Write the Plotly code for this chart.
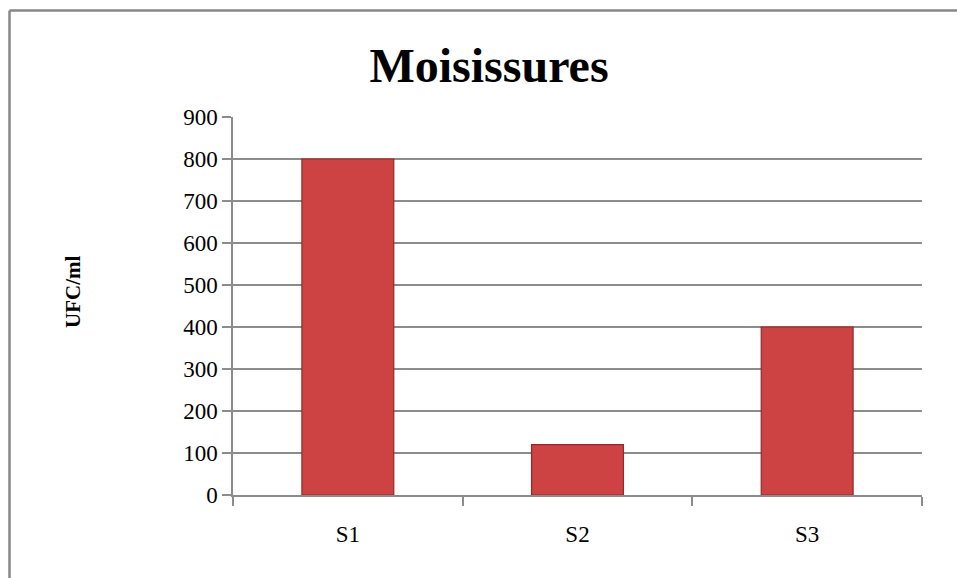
import plotly.graph_objects as go

# Moisissures counts per sample (UFC/ml)
samples = ["S1", "S2", "S3"]
ufc_values = [800, 120, 400]
y_ticks = [0, 100, 200, 300, 400, 500, 600, 700, 800, 900]

W, H = 957, 578
L, R, T, B = 233, 35, 117, 83
plot_w = W - L - R
plot_h = H - T - B

grid_col = "#8C8C8C"
serif = "Times New Roman, Liberation Serif, serif"

fig = go.Figure()

fig.add_trace(go.Bar(
    x=samples,
    y=ufc_values,
    width=0.4,
    marker=dict(color="#CD4242", line=dict(color="#962828", width=1.2)),
    showlegend=False,
    hoverinfo="x+y",
))

# outer chart frame (extends past right/bottom edges of the page)
fx0 = (9.5 - L) / plot_w
fy1 = (H - B - 10.5) / plot_h
fig.add_shape(type="line", xref="paper", yref="paper",
              x0=fx0, x1=fx0, y0=-0.5, y1=fy1,
              line=dict(color="#878787", width=2.5))
fig.add_shape(type="line", xref="paper", yref="paper",
              x0=fx0, x1=1.2, y0=fy1, y1=fy1,
              line=dict(color="#878787", width=2.5))

# vertical axis caption
fig.add_annotation(
    text="<b>UFC/ml</b>", textangle=-90,
    xref="paper", yref="paper",
    x=(73 - L) / plot_w, y=(H - B - 292) / plot_h,
    xanchor="center", yanchor="middle", showarrow=False,
    font=dict(family=serif, size=21, color="black"),
)

fig.update_layout(
    width=W, height=H,
    margin=dict(l=L, r=R, t=T, b=B, pad=0),
    paper_bgcolor="white",
    plot_bgcolor="white",
    font=dict(family=serif, color="black", size=23),
    title=dict(
        text="<b>Moisissures</b>",
        font=dict(family=serif, size=48, color="black"),
        x=489 / W, xref="container", xanchor="center",
        y=1 - 65 / H, yref="container", yanchor="middle",
    ),
    bargap=0.6,
)

fig.update_xaxes(
    type="category",
    tickson="boundaries",
    ticks="outside", ticklen=9, tickwidth=1.5, tickcolor=grid_col,
    showline=True, linecolor=grid_col, linewidth=1.5,
    showgrid=False,
    tickfont=dict(family=serif, size=23),
    ticklabelstandoff=18,
)

fig.update_yaxes(
    range=[0, 900],
    tickvals=y_ticks,
    ticks="outside", ticklen=9, tickwidth=1.5, tickcolor=grid_col,
    showline=True, linecolor=grid_col, linewidth=1.5,
    showgrid=True, gridcolor=grid_col, gridwidth=1.5,
    zeroline=False,
    tickfont=dict(family=serif, size=23),
    ticklabelstandoff=0,
)

fig.write_html("out.html")
